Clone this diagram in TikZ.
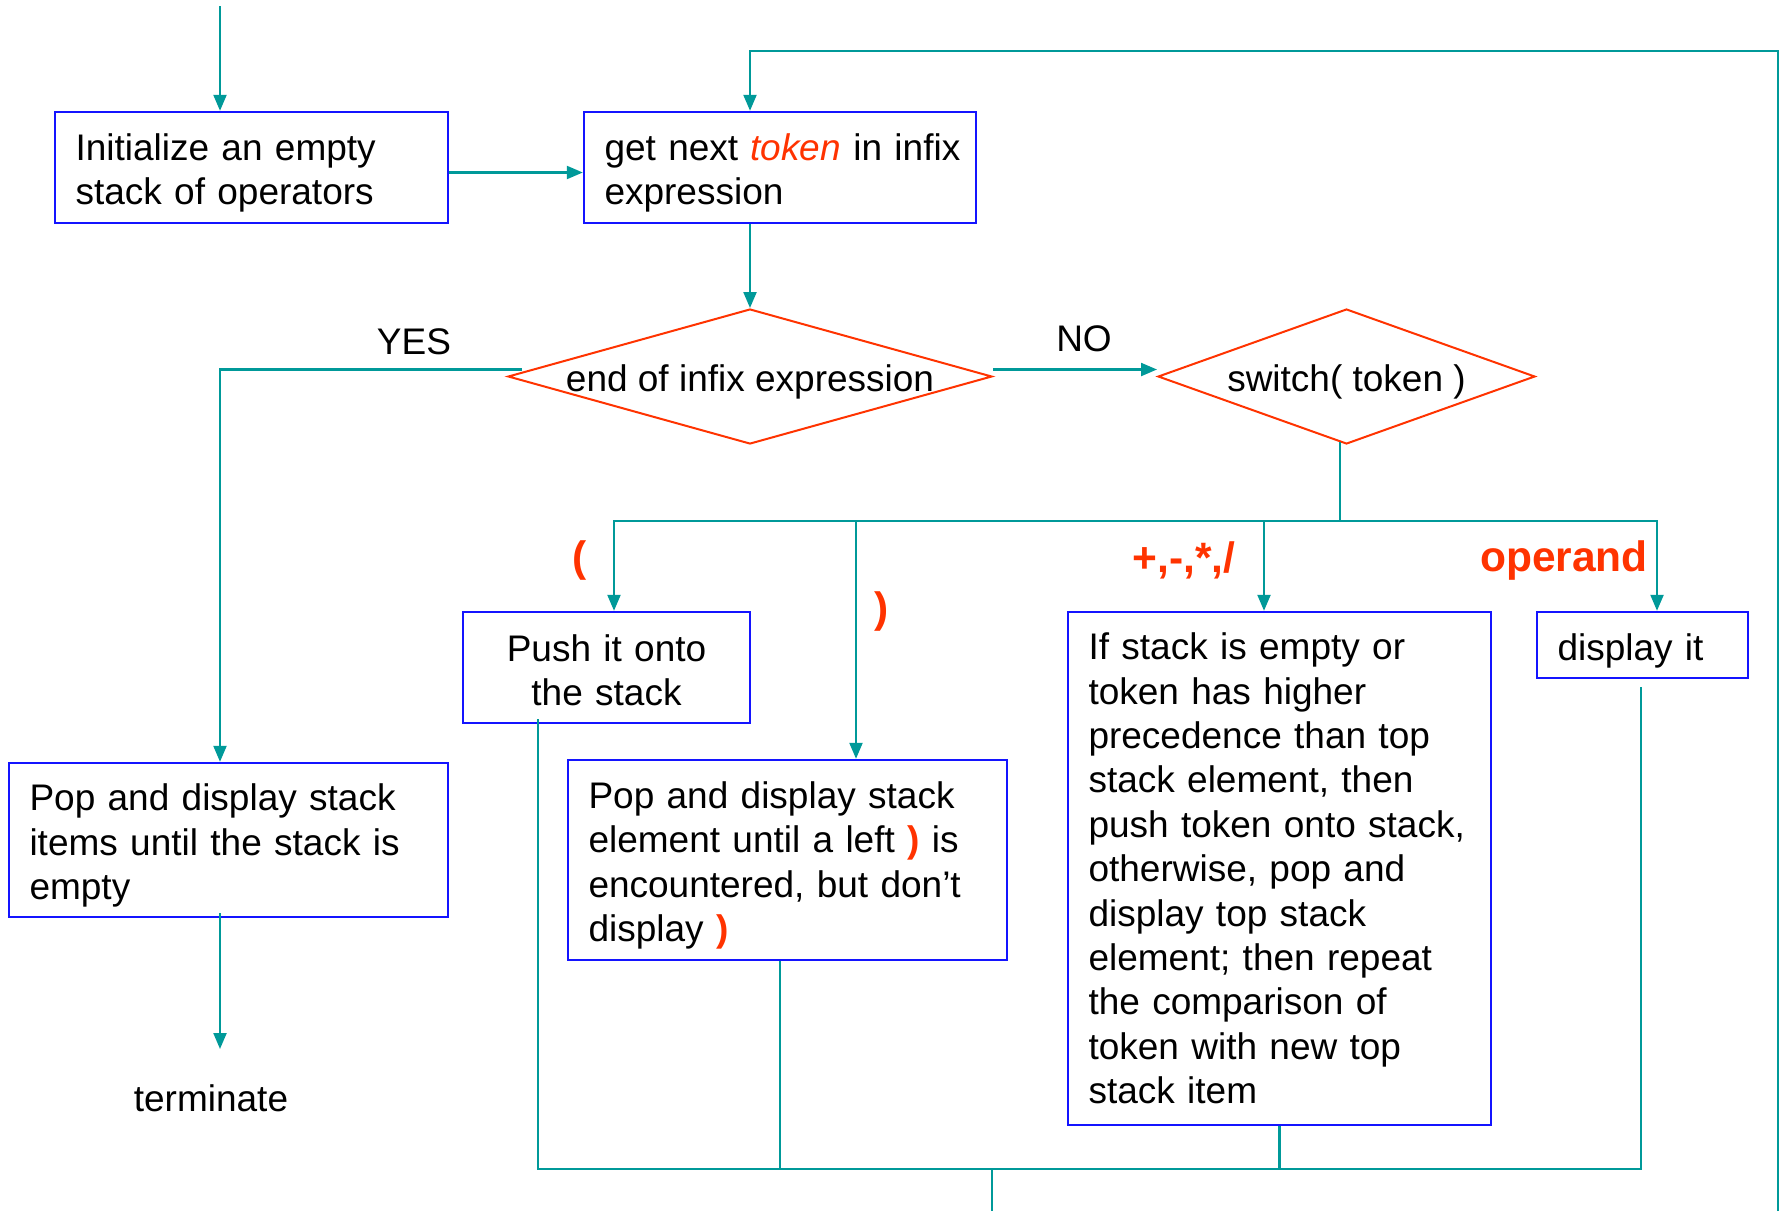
\documentclass[tikz,border=0pt]{standalone}
\usepackage{fontspec}
\setmainfont{Liberation Sans}
\usetikzlibrary{arrows.meta,shapes.geometric,calc}

\definecolor{flowteal}{RGB}{0,153,153}
\definecolor{boxblue}{RGB}{20,20,255}
\definecolor{hotred}{RGB}{255,51,0}

\newcommand{\bodyfont}{\fontsize{37}{44.4}\selectfont}
\newcommand{\labelfont}{\fontsize{42.5}{51}\selectfont\bfseries}
\newcommand{\rp}{{\color{hotred}\bfseries )}}
% invisible strut on a first line: lowers the text block a little inside its box
\newcommand{\lowerby}{\rule{0pt}{38pt}}

\tikzset{
  stepbox/.style={draw=boxblue, line width=2.4pt, fill=white, rectangle,
    inner xsep=20.5pt, inner ysep=0pt, align=left, font=\bodyfont},
  decision/.style={draw=hotred, line width=2pt, fill=white, diamond,
    inner sep=0pt, font=\bodyfont},
  flow/.style={draw=flowteal, line width=2.2pt},
  arr/.style={flow, -{Triangle[length=16pt,width=13pt]}},
  caselabel/.style={text=hotred, font=\labelfont, inner sep=0pt},
  plain/.style={font=\bodyfont, inner sep=0pt},
}

\begin{document}
\begin{tikzpicture}[x=1pt,y=-1pt]
\useasboundingbox (0,0) rectangle (1782,1211);

% ---- process boxes ----
\node[stepbox, text width=352pt, minimum height=111pt] (A) at (251.5,167.5)
  {\lowerby Initialize an empty\\stack of operators};
\node[stepbox, text width=351pt, minimum height=111pt] (B) at (780,167.5)
  {\lowerby\mbox{get next {\color{hotred}\itshape token} in infix}\\expression};
\node[stepbox, text width=246pt, minimum height=111pt, align=center] (PU) at (606.5,667.5)
  {\rule{0pt}{32pt}Push it onto\\the stack};
\node[stepbox, text width=398pt, minimum height=200pt] (PR) at (787.5,860)
  {\lowerby Pop and display stack\\element until a left \rp{} is\\encountered, but don’t\\display \rp};
\node[stepbox, text width=382pt, minimum height=513pt] (IF) at (1279.5,868.5)
  {If stack is empty or\\token has higher\\precedence than top\\stack element, then\\push token onto stack,\\otherwise, pop and\\display top stack\\element; then repeat\\the comparison of\\token with new top\\stack item};
\node[stepbox, text width=170pt, minimum height=66pt] (DISP) at (1642.5,645)
  {\lowerby display it};
\node[stepbox, text width=398pt, minimum height=154pt] (P1) at (228.5,840)
  {\lowerby Pop and display stack\\items until the stack is\\empty};
\node[plain] (TERM) at (211,1098) {terminate};

% ---- decisions ----
\node[decision, minimum width=484pt, minimum height=135pt] (D1) at (750,376.5)
  {\makebox[0pt]{\lowerby end of infix expression}};
\node[decision, minimum width=377pt, minimum height=135pt] (D2) at (1346.5,376.5)
  {\makebox[0pt]{\lowerby switch( token )}};

% ---- branch labels ----
\node[plain] (yes) at (414,342) {YES};
\node[plain] (no) at (1084,339) {NO};
\node[caselabel] (lpar) at (580,560) {(};
\node[caselabel] (rpar) at (882,611) {)};
\node[caselabel] (ops) at (1184,560) {+,-,*,/};
\node[caselabel] (opnd) at (1564,560) {operand};

% ---- junction points ----
\coordinate (entry) at (220,6);
\coordinate (loopTL) at (750,51);
\coordinate (loopIn) at (1778,1211);
\coordinate (split) at (1340,521);
\coordinate (busL) at (614,521);
\coordinate (busR) at (1657,521);
\coordinate (tapPR) at (856,521);
\coordinate (tapIF) at (1264,521);
\coordinate (mergeL) at (538,1169);
\coordinate (mergeR) at (1641,1169);
\coordinate (mergePR) at (780,1169);
\coordinate (mergeOut) at (992,1169);
\coordinate (exitDown) at (992,1211);
\coordinate (termIn) at (220,1049);

% ---- connectors ----
\draw[arr] (entry) -- (entry |- A.north);
\draw[arr] ([yshift=-5pt]A.east) -- ([yshift=-5pt]B.west);
\draw[arr] (loopIn) |- (loopTL) -- (loopTL |- B.north);
\draw[arr] (B.south -| D1.north) -- (D1.north);
\draw[arr] ([xshift=15pt,yshift=7pt]D1.west) -| (P1.north -| entry);
\draw[arr] ([yshift=7pt]D1.east) -- ([yshift=7pt]D2.west);
\draw[flow] ([yshift=3pt]D2.south -| split) -- (split);
\draw[arr] (split) -| (busL |- PU.north);
\draw[arr] (split) -| (busR |- DISP.north);
\draw[arr] (tapPR) -- (tapPR |- PR.north);
\draw[arr] (tapIF) -- (tapIF |- IF.north);
\draw[arr] ([yshift=5pt]P1.south -| entry) -- (termIn);

\draw[flow] ([yshift=5pt]PU.south -| mergeL) -- (mergeL) -- (mergeR)
  -- ([yshift=-8pt]DISP.south -| mergeR);
\draw[flow] (PR.south -| mergePR) -- (mergePR);
\draw[flow] (IF.south) -- (IF.south |- mergeL);
\draw[flow] (mergeOut) -- (exitDown);
\end{tikzpicture}
\end{document}
